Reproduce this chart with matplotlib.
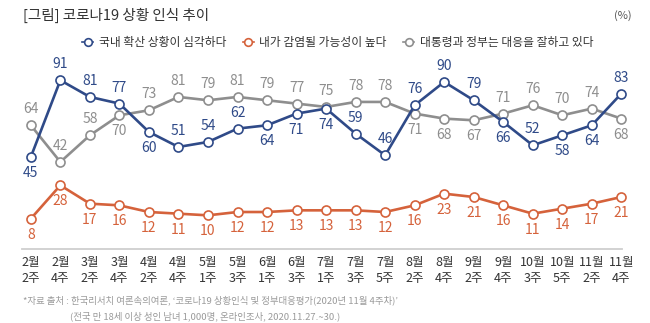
import matplotlib
matplotlib.use("Agg")
import matplotlib.pyplot as plt
from matplotlib.lines import Line2D

plt.rcParams['font.family'] = ['Noto Sans CJK KR', 'DejaVu Sans']

weeks = ["2월\n2주", "2월\n4주", "3월\n2주", "3월\n4주", "4월\n2주", "4월\n4주",
         "5월\n1주", "5월\n3주", "6월\n1주", "6월\n3주", "7월\n1주", "7월\n3주",
         "7월\n5주", "8월\n2주", "8월\n4주", "9월\n2주", "9월\n4주", "10월\n3주",
         "10월\n5주", "11월\n2주", "11월\n4주"]

serious = [45, 91, 81, 77, 60, 51, 54, 62, 64, 71, 74, 59, 46, 76, 90, 79, 66, 52, 58, 64, 83]
infected = [8, 28, 17, 16, 12, 11, 10, 12, 12, 13, 13, 13, 12, 16, 23, 21, 16, 11, 14, 17, 21]
govt = [64, 42, 58, 70, 73, 81, 79, 81, 79, 77, 75, 78, 78, 71, 68, 67, 71, 76, 70, 74, 68]

# label side per point: 1 above, -1 below
serious_side = [-1, 1, 1, 1, -1, 1, 1, 1, -1, -1, -1, 1, 1, 1, 1, 1, -1, 1, -1, -1, 1]
infected_side = [-1] * 21
govt_side = [1, 1, 1, -1, 1, 1, 1, 1, 1, 1, 1, 1, 1, -1, -1, -1, 1, 1, 1, 1, -1]

names = ["국내 확산 상황이 심각하다", "내가 감염될 가능성이 높다", "대통령과 정부는 대응을 잘하고 있다"]

BLUE = "#2f4a88"
ORANGE = "#d5623b"
GRAY = "#8e8e8e"

fig = plt.figure(figsize=(6.5, 3.23), dpi=100)
ax = fig.add_axes([0.0338, 0.229, 0.923, 0.60])

x = list(range(len(weeks)))
series = [(govt, govt_side, GRAY, 2), (infected, infected_side, ORANGE, 3),
          (serious, serious_side, BLUE, 4)]
for vals, side, col, z in series:
    ax.plot(x, vals, color=col, lw=1.9, marker='o', ms=6.5, mfc='white',
            mec=col, mew=1.2, zorder=z, clip_on=False)
    for xi, v, s in zip(x, vals, side):
        ax.annotate(str(v), (xi, v), xytext=(0, 11.5 * s), textcoords='offset points',
                    ha='center', va='center', fontsize=10, color=col)

ax.set_xlim(-0.3, 20.02)
ax.set_ylim(-10.2, 106)
ax.set_yticks([])
ax.set_xticks(x)
ax.set_xticklabels(weeks, fontsize=9, color="#333333", linespacing=1.35)
ax.tick_params(axis='x', length=0, pad=5)
for s in ['top', 'right', 'left']:
    ax.spines[s].set_visible(False)
ax.spines['bottom'].set_color("#cfcfcf")
ax.spines['bottom'].set_linewidth(1.3)

handles = [Line2D([], [], color=c, lw=1.2, marker='o', ms=5.5, mfc='white', mec=c, mew=1.2)
           for c in (BLUE, ORANGE, GRAY)]
fig.legend(handles, names, loc='center', bbox_to_anchor=(0.52, 0.867), ncol=3,
           frameon=False, fontsize=8.5, handlelength=0.9, handletextpad=0.5,
           columnspacing=1.4, labelcolor="#333333")

fig.text(0.035, 0.953, "[그림] 코로나19 상황 인식 추이", fontsize=10.5, color="#333333",
         va='center', ha='left')
fig.text(0.958, 0.953, "(%)", fontsize=8, color="#555555", va='center', ha='center')

fig.text(0.035, 0.071, "*자료 출처 : 한국리서치 여론속의여론, ‘코로나19 상황인식 및 정부대응평가(2020년 11월 4주차)’",
         fontsize=6.8, color="#9a9a9a", va='center', ha='left')
fig.text(0.108, 0.022, "(전국 만 18세 이상 성인 남녀 1,000명, 온라인조사, 2020.11.27.~30.)",
         fontsize=6.8, color="#9a9a9a", va='center', ha='left')

fig.savefig("out.png", dpi=100, facecolor='white')
